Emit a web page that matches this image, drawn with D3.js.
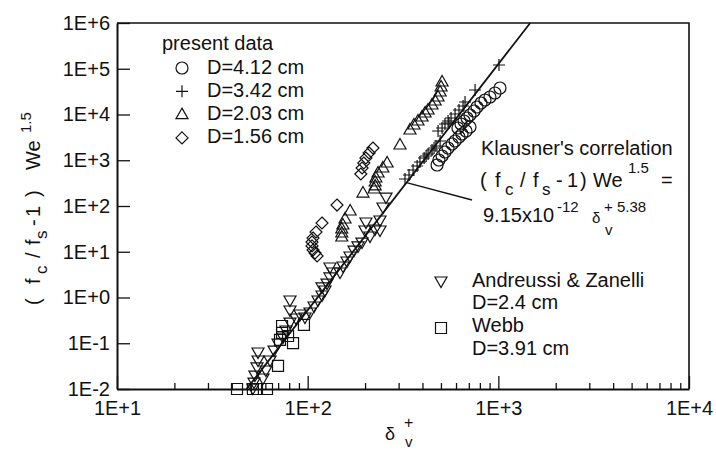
<!DOCTYPE html>
<html>
<head>
<meta charset="utf-8">
<script src="https://cdn.jsdelivr.net/npm/d3@7"></script>
<style>
  html, body { margin: 0; padding: 0; background: #fff; }
  svg { display: block; font-family: "Liberation Sans", Arial, Helvetica, sans-serif; }
</style>
</head>
<body>
<svg id="chart" width="716" height="450"></svg>
<script>
// ---- axis ticks ----
const xTickValues = [10, 100, 1000, 10000];
const xTickLabels = ["1E+1", "1E+2", "1E+3", "1E+4"];
const yTickValues = [1e-2, 1e-1, 1, 10, 100, 1e3, 1e4, 1e5, 1e6];
const yTickLabels = ["1E-2", "1E-1", "1E+0", "1E+1", "1E+2", "1E+3", "1E+4", "1E+5", "1E+6"];

// ---- present data: [delta_v+, (fc/fs - 1) We^1.5] ----
const dataD412 = [
  [477, 787], [488, 1012], [507, 1239], [525, 1515], [545, 1853], [572, 2266],
  [593, 2636], [622, 3222], [645, 3748], [677, 4357], [710, 5330], [614, 5070],
  [637, 6198], [661, 7211], [685, 8380], [710, 9750], [746, 11940], [773, 14590],
  [811, 17830], [851, 20740], [904, 24150], [960, 29510], [1020, 37930]
];
const dataD342 = [
  [324, 389], [340, 476], [357, 612], [375, 748], [388, 916], [408, 1120],
  [418, 1239], [428, 1370], [449, 1675], [460, 1853], [471, 2048], [495, 2636],
  [483, 4357], [507, 5070], [525, 6198], [551, 6518], [545, 7211], [565, 8380],
  [593, 10250], [622, 12540], [653, 15340], [669, 18750], [755, 34330], [1008, 120800]
];
const dataD203 = [
  [305, 2155], [344, 4583], [361, 5894], [379, 7211], [398, 8813], [413, 10790],
  [428, 12540], [449, 16130], [466, 19720], [483, 24150], [495, 31030], [501, 39900],
  [507, 51300],
  [261, 871], [248, 677], [234, 526], [228, 409], [226, 335], [226, 274],
  [223, 235], [195, 192], [167, 77.8], [157, 52.0], [153, 38.4], [151, 31.4],
  [151, 25.7], [151, 21.0]
];
const dataD156 = [
  [220, 1853], [210, 1440], [202, 1120], [197, 871], [193, 677], [190, 500],
  [142.5, 105], [118.9, 42.5], [110.6, 27.0], [106.7, 20.0], [105.4, 16.3],
  [105.4, 13.4], [106.7, 10.9], [109.3, 9.39], [112.0, 8.07]
];

// ---- literature data ----
const dataAndreussi = [
  [51.6, 0.0105], [52.3, 0.0142], [52.9, 0.0202], [54.2, 0.0303], [54.9, 0.043],
  [54.9, 0.0644], [58.3, 0.0174], [60.4, 0.026], [63.5, 0.043], [66.6, 0.071],
  [69.9, 0.101], [74.2, 0.137], [77.0, 0.195], [80.8, 0.291], [80.8, 0.533],
  [80.8, 0.881], [86.8, 0.356], [91.2, 0.436], [96.8, 0.375], [102.9, 0.482],
  [108, 0.652], [113.3, 0.881], [118.9, 1.135], [123.3, 1.46], [118.9, 1.70],
  [126.3, 2.07], [130.9, 2.81], [135.7, 3.61], [130.9, 4.64], [147.8, 3.61],
  [153.3, 4.88], [160.8, 6.28], [166.7, 8.07], [175, 10.9], [183.6, 13.4],
  [192.7, 16.3], [199.8, 29.9], [202.2, 44.7], [212.3, 22.1], [225.5, 31.4],
  [239.5, 29.9], [239.5, 49.4], [248.3, 95.1], [257.6, 157]
];
const dataWebb = [
  [42.6, 0.01], [51.6, 0.01], [54.2, 0.01], [61.2, 0.01], [69.9, 0.0319],
  [73.4, 0.238], [73.4, 0.168], [71.6, 0.118], [78.9, 0.144], [83.8, 0.101],
  [95.6, 0.251]
];

// ---- Klausner's correlation: (fc/fs-1) We^1.5 = C * delta^n ----
const klausnerCoef = 9.15e-12;
const klausnerExp = 5.38;

const legendPresent = ["D=4.12 cm", "D=3.42 cm", "D=2.03 cm", "D=1.56 cm"];

// ---- layout ----
const svg = d3.select("#chart");
const plot = { left: 117, right: 689, top: 23, bottom: 389 };

const x = d3.scaleLog().domain([10, 1e4]).range([plot.left, plot.right]);
const y = d3.scaleLog().domain([1e-2, 1e6]).range([plot.bottom, plot.top]);

const ink = "#111";

// marker shapes, centred on (0,0)
function markerPath(type) {
  switch (type) {
    case "circle": {
      const p = d3.path(); p.arc(0, 0, 6, 0, 2 * Math.PI); p.closePath(); return p.toString();
    }
    case "plus": return "M-6,0H6M0,-6V6";
    case "triUp": return "M0,-6.5L6,4L-6,4Z";
    case "triDown": return "M-6,-4L6,-4L0,6.5Z";
    case "diamond": return "M0,-6L6,0L0,6L-6,0Z";
    case "square": return "M-5.5,-5.5H5.5V5.5H-5.5Z";
  }
}

function drawSeries(data, type) {
  svg.append("g")
    .selectAll("path")
    .data(data)
    .join("path")
    .attr("transform", d => `translate(${x(d[0])},${y(d[1])})`)
    .attr("d", markerPath(type))
    .attr("fill", "none")
    .attr("stroke", ink)
    .attr("stroke-width", 1.2);
}

// ---- axes ----
const xMinor = [];
[10, 100, 1000].forEach(dec => { for (let k = 2; k <= 9; k++) xMinor.push(k * dec); });

const gx = svg.append("g")
  .attr("transform", `translate(0,${plot.bottom})`)
  .call(d3.axisBottom(x)
    .tickValues(xTickValues)
    .tickFormat((d, i) => xTickLabels[i])
    .tickSizeInner(-13).tickSizeOuter(0).tickPadding(12));

svg.append("g")
  .attr("transform", `translate(0,${plot.bottom})`)
  .call(d3.axisBottom(x).tickValues(xMinor).tickFormat("")
    .tickSizeInner(-6).tickSizeOuter(0))
  .call(g => g.select(".domain").remove());

const gy = svg.append("g")
  .attr("transform", `translate(${plot.left},0)`)
  .call(d3.axisLeft(y)
    .tickValues(yTickValues)
    .tickFormat((d, i) => yTickLabels[i])
    .tickSizeInner(-13).tickSizeOuter(0).tickPadding(7));

svg.selectAll(".tick line").attr("stroke", ink).attr("stroke-width", 1.3);
svg.selectAll(".domain").attr("stroke", ink).attr("stroke-width", 2);
[gx, gy].forEach(g => g.selectAll("text")
  .attr("font-size", 20)
  .attr("font-family", "Liberation Sans, Arial, sans-serif")
  .attr("fill", ink));

// top and right frame
svg.append("path")
  .attr("d", `M${plot.left},${plot.top}H${plot.right}V${plot.bottom}`)
  .attr("fill", "none").attr("stroke", ink).attr("stroke-width", 1.6);

// ---- correlation line ----
const xLo = Math.pow(1e-2 / klausnerCoef, 1 / klausnerExp);
const xHi = Math.pow(1e6 / klausnerCoef, 1 / klausnerExp);
const corrPts = [xLo, xHi].map(v => [v, klausnerCoef * Math.pow(v, klausnerExp)]);
svg.append("path")
  .attr("d", d3.line().x(d => x(d[0])).y(d => y(d[1]))(corrPts))
  .attr("fill", "none").attr("stroke", ink).attr("stroke-width", 1.8);

// ---- data markers ----
drawSeries(dataWebb, "square");
drawSeries(dataAndreussi, "triDown");
drawSeries(dataD156, "diamond");
drawSeries(dataD203, "triUp");
drawSeries(dataD342, "plus");
drawSeries(dataD412, "circle");

// ---- text helpers ----
function addText(parent, str, xx, yy, size) {
  return parent.append("text")
    .attr("x", xx).attr("y", yy)
    .attr("font-size", size)
    .attr("fill", ink)
    .text(str);
}

// legend: present data
addText(svg, "present data", 162, 50, 20);
const legTypes = ["circle", "plus", "triUp", "diamond"];
legendPresent.forEach((lab, i) => {
  const cy = 68 + i * 23.3;
  svg.append("path")
    .attr("transform", `translate(182,${cy})`)
    .attr("d", markerPath(legTypes[i]))
    .attr("fill", "none").attr("stroke", ink).attr("stroke-width", 1.2);
  addText(svg, lab, 207, 74 + i * 23, 20);
});

// legend: literature data
svg.append("path").attr("transform", "translate(441,281)")
  .attr("d", markerPath("triDown"))
  .attr("fill", "none").attr("stroke", ink).attr("stroke-width", 1.2);
addText(svg, "Andreussi & Zanelli", 472, 287, 20);
addText(svg, "D=2.4 cm", 472, 309, 20);
svg.append("path").attr("transform", "translate(441,328)")
  .attr("d", markerPath("square"))
  .attr("fill", "none").attr("stroke", ink).attr("stroke-width", 1.2);
addText(svg, "Webb", 472, 332, 20);
addText(svg, "D=3.91 cm", 472, 355, 20);

// ---- correlation annotation ----
addText(svg, "Klausner's correlation", 481, 155, 20);
const eq1 = [
  ["(", 480, 187, 20], ["f", 495, 187, 20], ["c", 505, 195, 17], ["/", 520, 187, 20],
  ["f", 533, 187, 20], ["s", 542, 195, 17], ["-", 556, 187, 20], ["1", 567, 187, 20],
  [")", 580, 187, 20], ["We", 593, 187, 20], ["1.5", 628, 173, 15], ["=", 661, 187, 20]
];
eq1.forEach(p => addText(svg, p[0], p[1], p[2], p[3]));
const eq2 = [
  ["9.15x10", 483, 222, 20], ["-12", 557, 212, 15], ["\u03b4", 592, 223, 15],
  ["+ 5.38", 604, 212, 15], ["v", 605, 235, 15]
];
eq2.forEach(p => addText(svg, p[0], p[1], p[2], p[3]));

// leader from the correlation line to the annotation
const leadX = 330;
svg.append("line")
  .attr("x1", x(leadX)).attr("y1", y(klausnerCoef * Math.pow(leadX, klausnerExp)))
  .attr("x2", 472).attr("y2", 200)
  .attr("stroke", ink).attr("stroke-width", 1.3);

// ---- axis titles ----
const yTitle = svg.append("g").attr("transform", "translate(40,0) rotate(-90)");
const yParts = [
  ["(", -305, 0, 20], ["f", -284, 0, 20], ["c", -274, 7, 17], ["/", -258, 0, 20],
  ["f", -245, 0, 20], ["s", -239, 7, 17], ["-", -226, 0, 20], ["1", -217, 0, 20],
  [")", -197, 0, 20], ["We", -170, 0, 20], ["1.5", -133, -9, 15]
];
yParts.forEach(p => addText(yTitle, p[0], p[1], p[2], p[3]));

addText(svg, "\u03b4", 385, 440, 18);
addText(svg, "+", 404, 428, 16);
addText(svg, "v", 405, 447, 15);
</script>
</body>
</html>
